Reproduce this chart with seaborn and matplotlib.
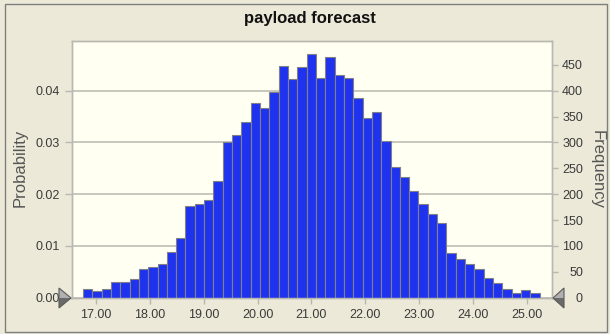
import numpy as np
import pandas as pd
import matplotlib
matplotlib.use("Agg")
import matplotlib.pyplot as plt
from matplotlib.patches import Polygon, Rectangle
from matplotlib.ticker import FormatStrFormatter
import seaborn as sns

# ---- forecast data -------------------------------------------------------
title = "payload forecast"
trials = 10000
bin_start = 16.758
bin_width = 0.1731
frequency = [17, 12, 16, 30, 30, 37, 55, 59, 66, 89,
             116, 177, 181, 189, 225, 300, 315, 339, 376, 367,
             397, 448, 423, 446, 471, 425, 466, 430, 425, 385,
             347, 359, 302, 253, 234, 207, 181, 161, 145, 87,
             75, 66, 55, 39, 28, 17, 10, 15, 10]
x_ticks = [17, 18, 19, 20, 21, 22, 23, 24, 25]
freq_ticks = [0, 50, 100, 150, 200, 250, 300, 350, 400, 450]
prob_ticks = [0.00, 0.01, 0.02, 0.03, 0.04]
x_range = (16.554, 25.47)
freq_max = 497

sns.set_style("white")
plt.rcParams["font.family"] = ["Liberation Sans", "DejaVu Sans"]

edges = bin_start + bin_width * np.arange(len(frequency) + 1)
centers = (edges[:-1] + edges[1:]) / 2
df = pd.DataFrame({"payload": centers, "frequency": frequency})

W, H = 610, 334
BG = "#ECE9D8"
GRID = "#B8B8B0"
TEXT = "#3A3A3A"


def fig_xy(x, y):
    return (x / W, 1 - y / H)


fig = plt.figure(figsize=(W / 100, H / 100), dpi=100, facecolor=BG)
ax = fig.add_axes([72 / W, 1 - 297.7 / H, 480 / W, 257.2 / H])
ax.set_facecolor("#FFFFF2")
axf = ax.twinx()

sns.histplot(data=df, x="payload", weights="frequency", bins=list(edges),
             ax=axf, color="#1F33EE", alpha=1, edgecolor="#80808A",
             linewidth=0.8)

ax.set_xlim(*x_range)
axf.set_ylim(0, freq_max)
ax.set_ylim(0, freq_max / trials)

# left probability axis with grid
ax.set_yticks(prob_ticks)
ax.yaxis.set_major_formatter(FormatStrFormatter("%.2f"))
ax.yaxis.grid(True, color=GRID, lw=1.1)
ax.xaxis.grid(False)
ax.set_axisbelow(True)
ax.tick_params(axis="y", direction="out", length=5, width=1, color=GRID,
               pad=4, labelsize=9, labelcolor=TEXT, left=True)

# right frequency axis
axf.set_yticks(freq_ticks, labels=[str(v) for v in freq_ticks])
axf.tick_params(axis="y", direction="out", length=4.3, width=1, color=GRID,
                pad=18, labelsize=9, labelcolor=TEXT, right=True)
for t in axf.get_yticklabels():
    t.set_horizontalalignment("right")
axf.set_ylabel("")
axf.set_xlabel("")

# x axis
ax.set_xticks(x_ticks, labels=[f"{v:.2f}" for v in x_ticks])
ax.tick_params(axis="x", direction="out", length=4, width=1, color=GRID,
               pad=4, labelsize=9, labelcolor=TEXT, bottom=True)
ax.set_xlabel("")
ax.set_ylabel("")

for a in (ax, axf):
    for s in a.spines.values():
        s.set_color(GRID)
        s.set_linewidth(1)

# titles and axis names
fig.text(*fig_xy(310, 19), title, ha="center", va="center",
         fontsize=12, fontweight="bold", color="#111111")
fig.text(*fig_xy(20, 168), "Probability", ha="center", va="center",
         rotation=90, fontsize=12, color="#555555")
fig.text(*fig_xy(597, 170), "Frequency", ha="center", va="center",
         rotation=-90, fontsize=12, color="#555555")

# certainty grabbers at both ends of the baseline
def grabber(tip_x, base_x):
    upper = [fig_xy(base_x, 288), fig_xy(tip_x, 298), fig_xy(base_x, 298)]
    lower = [fig_xy(base_x, 298), fig_xy(tip_x, 298), fig_xy(base_x, 308)]
    fig.patches.append(Polygon(upper, closed=True, transform=fig.transFigure,
                               facecolor="#B0B0B0", edgecolor="none", zorder=5))
    fig.patches.append(Polygon(lower, closed=True, transform=fig.transFigure,
                               facecolor="#6A6A6A", edgecolor="none", zorder=5))
    outline = [fig_xy(base_x, 288), fig_xy(tip_x, 298), fig_xy(base_x, 308)]
    fig.patches.append(Polygon(outline, closed=True, transform=fig.transFigure,
                               facecolor="none", edgecolor="#5A5A5A", lw=0.8,
                               zorder=6))


grabber(71, 59)
grabber(553, 564)

# window frame
fig.patches.append(Rectangle(fig_xy(5, 332), 602 / W, 328 / H, fill=False,
                             edgecolor="#7E7E7E", lw=1,
                             transform=fig.transFigure, zorder=4))

fig.savefig("out.png", dpi=100, facecolor=fig.get_facecolor())
